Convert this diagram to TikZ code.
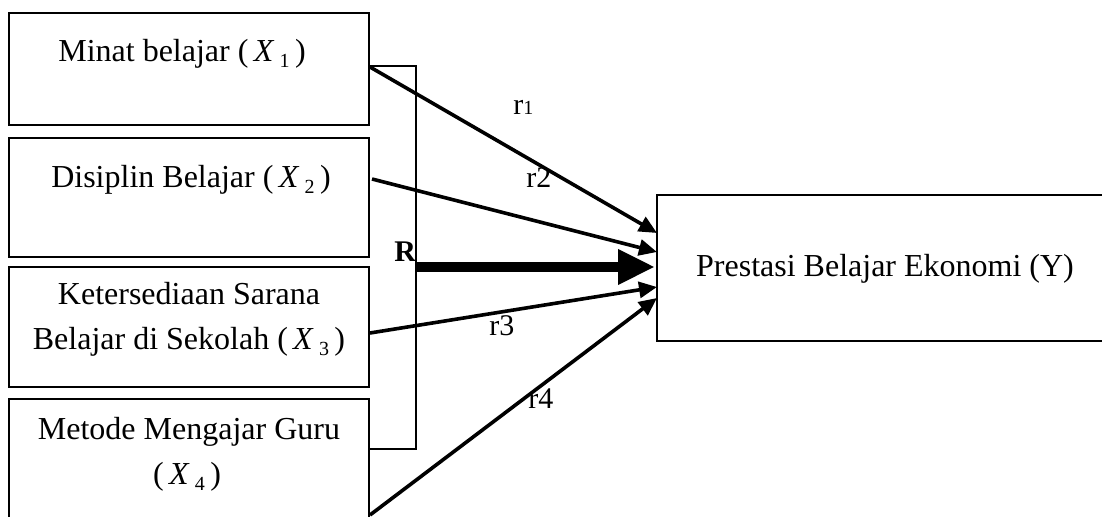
\documentclass[tikz,border=0pt]{standalone}
\usepackage{fontspec}
\setmainfont{Liberation Serif}
\usetikzlibrary{arrows.meta}
\newcommand{\vx}[1]{(\,\textit{X}\,\raisebox{-0.4ex}{\fontsize{10}{10}\selectfont #1}\,)}
\begin{document}
\begin{tikzpicture}[x=0.5pt,y=-0.5pt,
  boxnode/.style={draw, line width=1pt, inner sep=0pt, outer sep=0pt, anchor=north west, minimum width=180pt},
  txt/.style={anchor=base, inner sep=0pt, font=\fontsize{16}{16}\selectfont},
  lbl/.style={anchor=base west, inner sep=0pt, font=\fontsize{15}{15}\selectfont},
  conn/.style={line width=1.8pt, -{Triangle[length=9pt,width=8pt]}}]
\useasboundingbox (0,0) rectangle (1102,517);
\clip (0,0) rectangle (1102,517);
\node[boxnode, minimum height=56pt] (b1) at (9,13) {};
\node[boxnode, minimum height=59.5pt] (b2) at (9,138) {};
\node[boxnode, minimum height=60pt] (b3) at (9,267) {};
\node[boxnode, minimum height=80pt] (b4) at (9,399) {};
\node[boxnode, minimum width=260pt, minimum height=73pt] (by) at (657,195) {};
\node[txt] (t1) at (182,62) {Minat belajar \vx{1}};
\node[txt] (t2) at (191,188) {Disiplin Belajar \vx{2}};
\node[txt] (t3a) at (189,305) {Ketersediaan Sarana};
\node[txt] (t3b) at (189,350) {Belajar di Sekolah \vx{3}};
\node[txt] (t4a) at (189,440) {Metode Mengajar Guru};
\node[txt] (t4b) at (187,485) {\vx{4}};
\node[txt] (ty) at (885,277) {Prestasi Belajar Ekonomi (Y)};
% bracket
\coordinate (k1) at (370,66);
\coordinate (k2) at (416,449);
\coordinate (k3) at (369,449);
\draw[line width=0.8pt] (k1) -| (k2) -- (k3);
% arrows
\coordinate (s1) at (370,67);
\coordinate (s2) at (372,179);
\coordinate (s3) at (370,333);
\coordinate (s4) at (370,515);
\coordinate (e1) at (657,233);
\coordinate (e2) at (657,252);
\coordinate (e3) at (657,287);
\coordinate (e4) at (657,298);
\draw[conn] (s1) -- (e1);
\draw[conn] (s2) -- (e2);
\draw[conn] (s3) -- (e3);
\draw[conn] (s4) -- (e4);
\coordinate (rs) at (416,267);
\coordinate (re) at (655,267);
\draw[line width=5pt, -{Triangle[length=18.5pt,width=16.5pt]}] (rs) -- (re);
% labels
\node[lbl] (l1) at (513,115) {r{\fontsize{10}{10}\selectfont 1}};
\node[lbl] (l2) at (526,188) {r2};
\node[lbl] (l3) at (489,336) {r3};
\node[lbl] (l4) at (528,409) {r4};
\node[lbl, font=\fontsize{15}{15}\selectfont\bfseries] (lr) at (394,262) {R};
\end{tikzpicture}
\end{document}
